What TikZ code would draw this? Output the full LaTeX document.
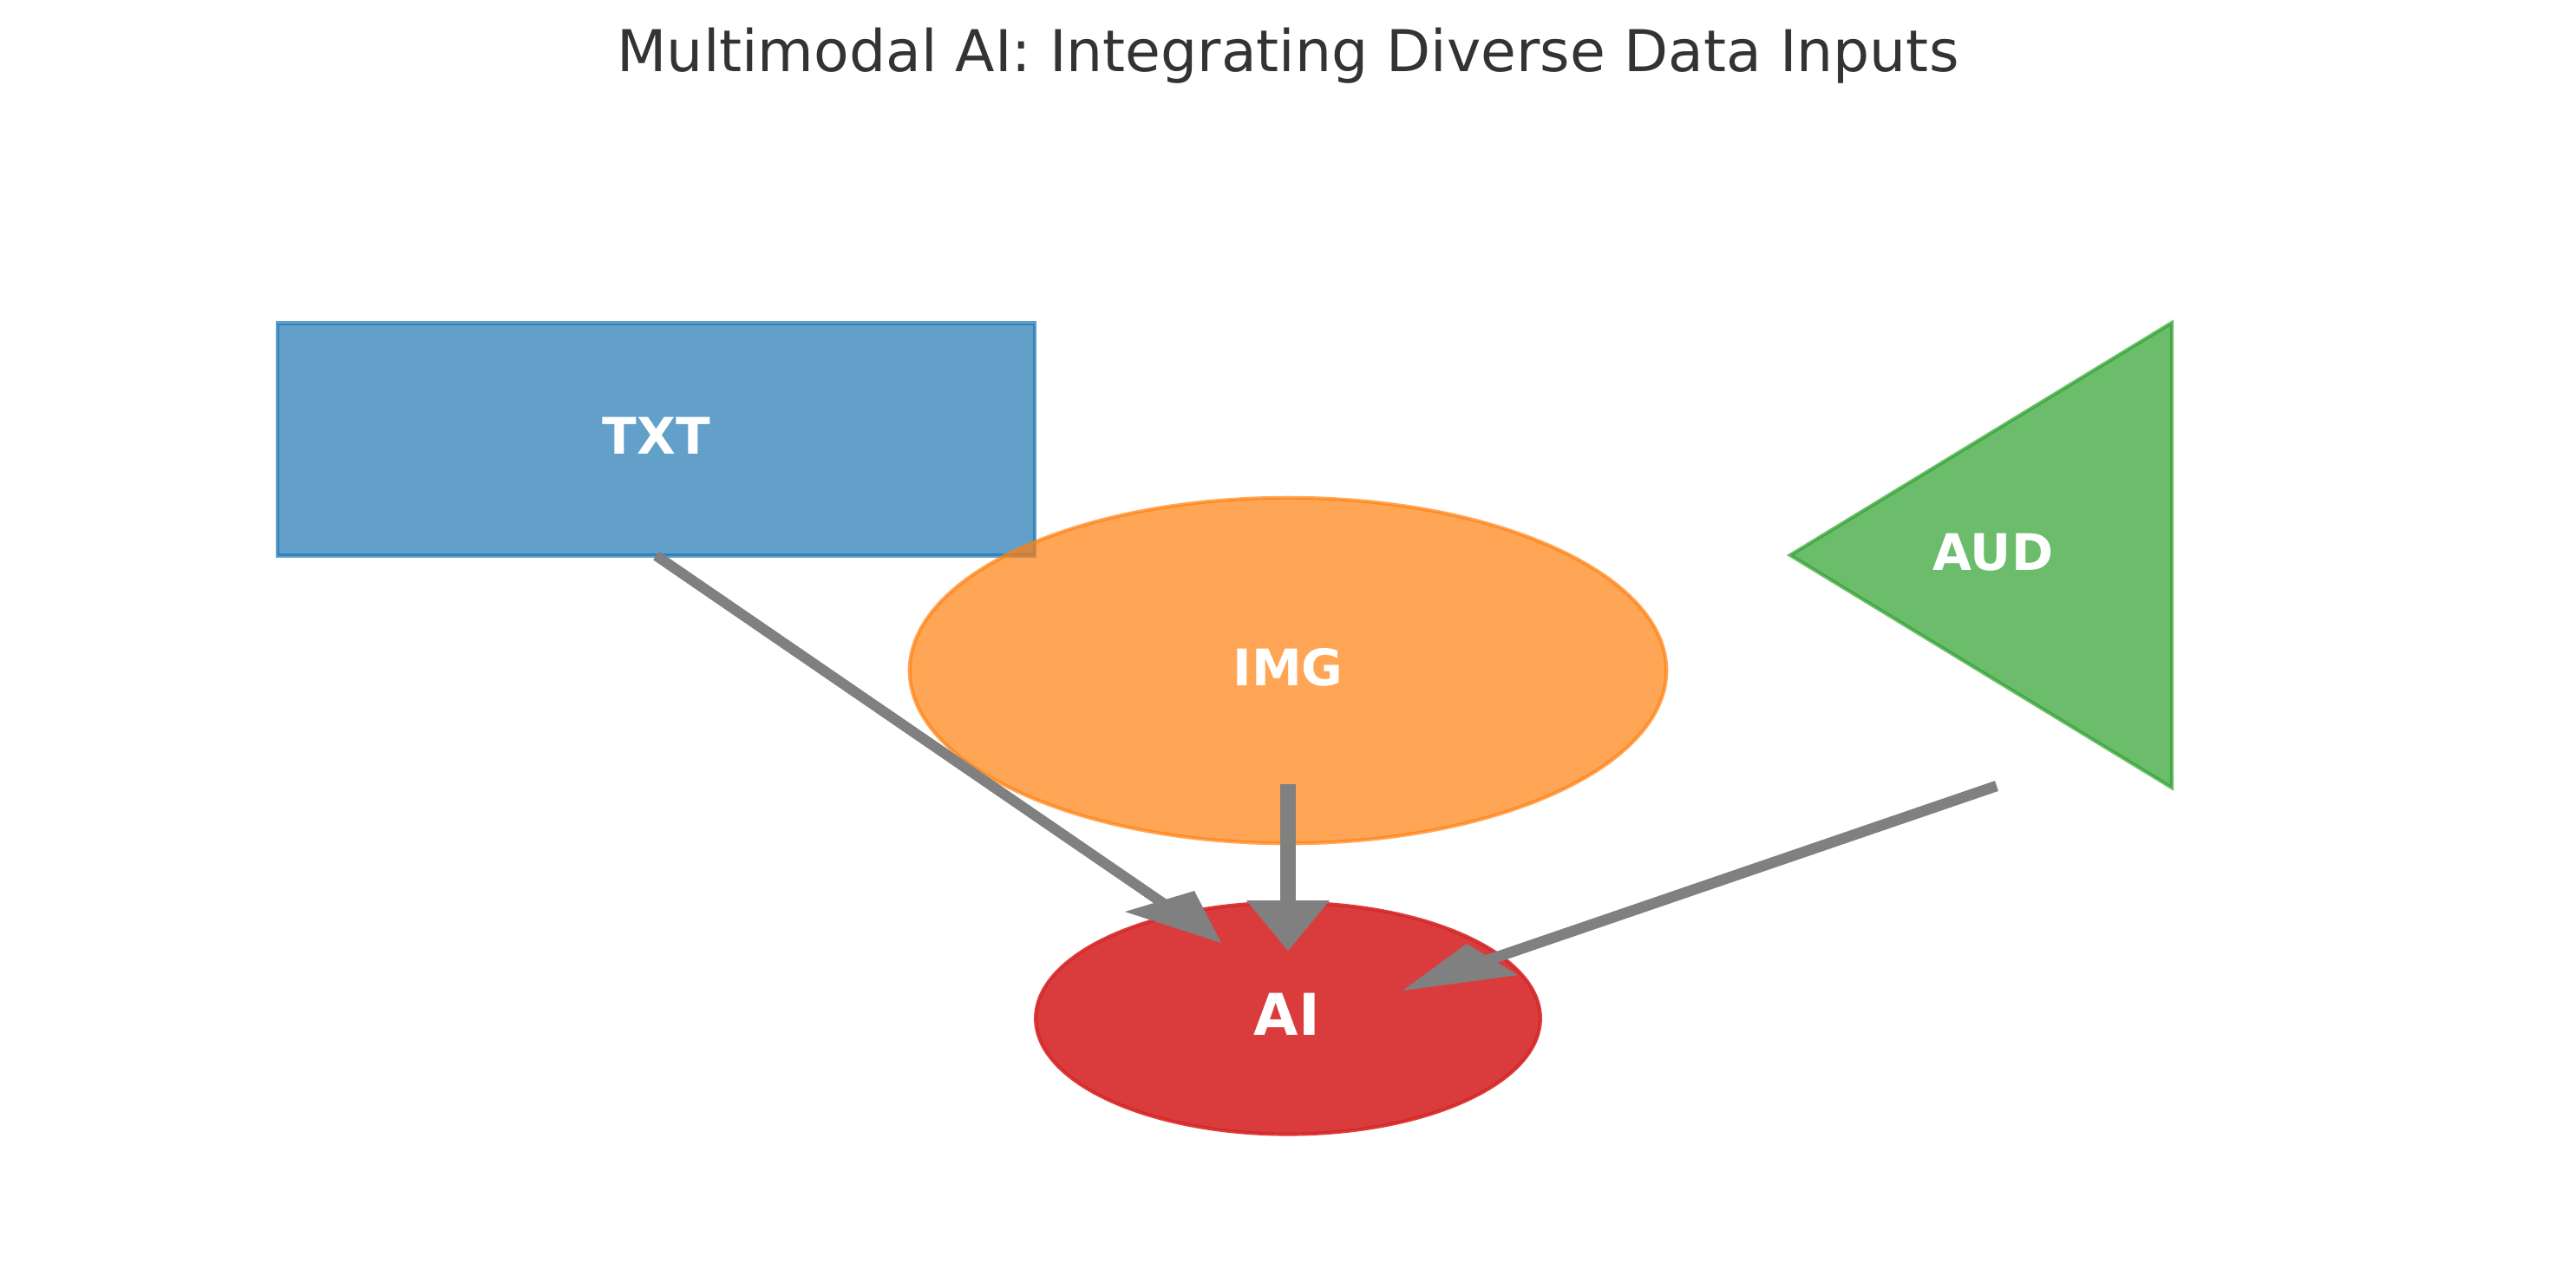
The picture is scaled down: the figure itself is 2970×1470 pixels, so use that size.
\documentclass[tikz,border=0pt]{standalone}
\usepackage{fontspec}
\setmainfont{DejaVu Sans}
\usetikzlibrary{shapes.geometric}
\definecolor{tabblue}{HTML}{1F77B4}
\definecolor{taborange}{HTML}{FF7F0E}
\definecolor{tabgreen}{HTML}{2CA02C}
\definecolor{tabred}{HTML}{D62728}
\definecolor{titlegray}{HTML}{333333}
\definecolor{arrowgray}{HTML}{808080}
\tikzset{
  shapestyle/.style={line width=1pt, inner sep=0pt, outer sep=0pt},
  lbl/.style={anchor=base, inner sep=0pt, text=white, font=\bfseries\fontsize{14}{16}\selectfont},
  biglbl/.style={anchor=base, inner sep=0pt, text=white, font=\bfseries\fontsize{16}{19}\selectfont},
  shaft/.style={draw=arrowgray, line cap=butt},
  headtip/.style={fill=arrowgray, draw=none},
}
\begin{document}
\begin{tikzpicture}[x=0.00846667cm, y=-0.00846667cm]
\useasboundingbox (0,0) rectangle (2970,1470);
% title
\node[anchor=base, inner sep=0pt, text=titlegray, font=\fontsize{16}{19}\selectfont] (title) at (1485,82) {Multimodal AI: Integrating Diverse Data Inputs};
% shapes
\node[shapestyle, rectangle, draw=tabblue, fill=tabblue, opacity=0.7, minimum width=210.24pt, minimum height=64.56pt] (txt) at (756.5,506.5) {};
\node[shapestyle, ellipse, draw=taborange, fill=taborange, opacity=0.7, minimum width=210.24pt, minimum height=96pt] (img) at (1485,773) {};
\coordinate (audL) at (2064,640);
\coordinate (audT) at (2504,372);
\coordinate (audB) at (2504,908);
\draw[line width=1pt, draw=tabgreen, fill=tabgreen, opacity=0.7, line join=miter] (audL) -- (audT) -- (audB) -- cycle;
\node[shapestyle, ellipse, draw=tabred, fill=tabred, opacity=0.9, minimum width=140.16pt, minimum height=64.32pt] (ai) at (1485,1174) {};
% labels
\node[lbl] (txtL) at (757,523) {TXT};
\node[lbl] (imgL) at (1485,790) {IMG};
\node[lbl] (audLbl) at (2298,657) {AUD};
\node[biglbl] (aiL) at (1484,1193) {AI};
% connectors
\coordinate (imgS) at (1485,904);
\coordinate (audS) at (2302,906);
% TXT -> AI
\coordinate (txtB) at (1345,1044);
\draw[shaft, line width=2.9pt] (txt.south) -- (txtB);
\fill[headtip] (1297,1051) -- (1408,1087) -- (1377,1027) -- cycle;
% IMG -> AI
\coordinate (imgB) at (1485,1045);
\draw[shaft, line width=4.32pt] (imgS) -- (imgB);
\fill[headtip] (1437,1038) -- (1485,1096) -- (1533,1038) -- cycle;
% AUD -> AI
\coordinate (audE) at (1712,1108);
\draw[shaft, line width=3pt] (audS) -- (audE);
\fill[headtip] (1691,1088) -- (1617,1142) -- (1750,1124) -- cycle;
\end{tikzpicture}
\end{document}
